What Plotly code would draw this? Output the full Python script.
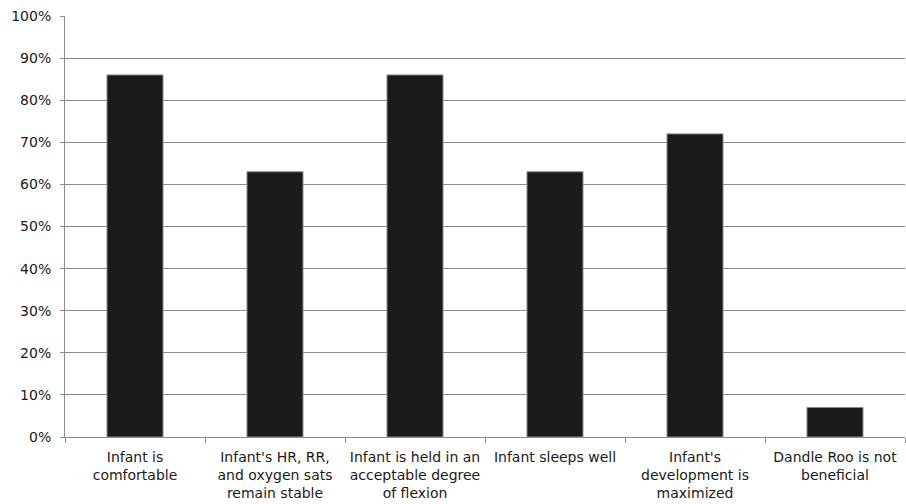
import plotly.graph_objects as go

# Survey outcome categories (multi-line axis labels) and share of responses
categories = [
    "Infant is<br>comfortable",
    "Infant's HR, RR,<br>and oxygen sats<br>remain stable",
    "Infant is held in an<br>acceptable degree<br>of flexion",
    "Infant sleeps well",
    "Infant's<br>development is<br>maximized",
    "Dandle Roo is not<br>beneficial",
]
percent = [86, 63, 86, 63, 72, 7]
y_ticks = list(range(0, 101, 10))
y_tick_labels = [f"{v}%" for v in y_ticks]

fig = go.Figure(
    go.Bar(
        x=categories,
        y=percent,
        marker=dict(color="#1a1a1a", line=dict(color="#8a8a8a", width=1)),
        hoverinfo="skip",
    )
)

axis_grey = "#8c8c8c"
fig.update_layout(
    width=906,
    height=504,
    margin=dict(l=65, r=1, t=16, b=67),
    paper_bgcolor="white",
    plot_bgcolor="white",
    bargap=0.6,
    showlegend=False,
    font=dict(family="DejaVu Sans, Verdana, sans-serif", size=14, color="#1a1a1a"),
    xaxis=dict(
        showline=True,
        linecolor=axis_grey,
        linewidth=1,
        ticks="outside",
        tickson="boundaries",
        ticklen=5,
        tickcolor=axis_grey,
        showgrid=False,
        tickangle=0,
        ticklabelstandoff=7,
    ),
    yaxis=dict(
        range=[0, 100],
        tickvals=y_ticks,
        ticktext=y_tick_labels,
        showline=True,
        linecolor=axis_grey,
        linewidth=1,
        ticks="outside",
        ticklen=4,
        tickcolor=axis_grey,
        showgrid=True,
        gridcolor=axis_grey,
        gridwidth=1,
        zeroline=False,
        ticklabelstandoff=6,
    ),
)

fig.write_html("out.html")
